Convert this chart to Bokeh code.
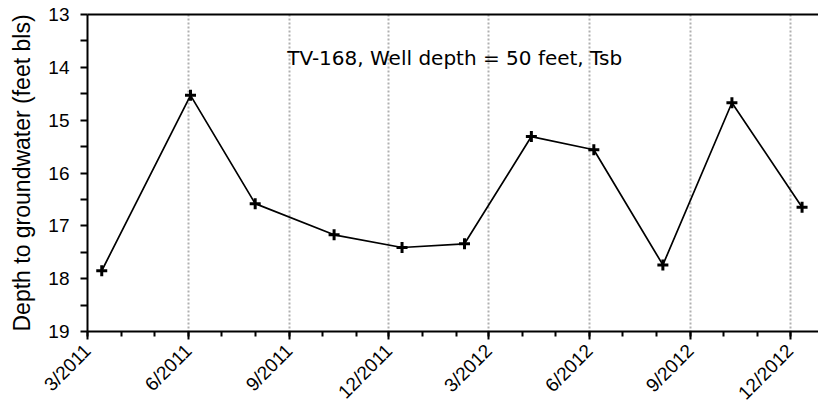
import pandas as pd
from bokeh.plotting import figure
from bokeh.models import (Range1d, FixedTicker, LinearAxis, Label, ColumnDataSource)
from bokeh.embed import file_html
from bokeh.resources import INLINE

# ---- data ----
sample_dates = ["2011-03-14", "2011-06-03", "2011-08-01", "2011-10-12", "2011-12-13",
                "2012-02-08", "2012-04-09", "2012-06-05", "2012-08-07", "2012-10-09",
                "2012-12-12"]
depth_ft = [17.85, 14.53, 16.58, 17.17, 17.41, 17.34, 15.31, 15.56, 17.74, 14.67, 16.65]

tick_dates = ["2011-03-01", "2011-06-01", "2011-09-01", "2011-12-01", "2012-03-01",
              "2012-06-01", "2012-09-01", "2012-12-01"]
tick_labels = ["3/2011", "6/2011", "9/2011", "12/2011", "3/2012", "6/2012", "9/2012", "12/2012"]
minor_dates = pd.date_range("2011-03-01", "2013-01-01", freq="MS")

y_ticks = [13, 14, 15, 16, 17, 18, 19]
y_minor = [13.5, 14.5, 15.5, 16.5, 17.5, 18.5]

title_text = "TV-168, Well depth = 50 feet, Tsb"
y_label = "Depth to groundwater (feet bls)"

# ---- helpers ----
def ms(d):
    return pd.Timestamp(d).value // 10**6

src = ColumnDataSource(dict(date=pd.to_datetime(sample_dates), depth=depth_ft))

p = figure(width=818, height=414, x_axis_type="datetime",
           x_range=Range1d(pd.Timestamp("2011-03-01"), pd.Timestamp("2012-12-27")),
           y_range=Range1d(19, 13),
           output_backend="svg", toolbar_location=None,
           min_border_left=87, min_border_right=0, min_border_top=14, min_border_bottom=83)
p.outline_line_color = None
p.background_fill_color = "white"
p.border_fill_color = "white"

# x axis
tmaj = [ms(d) for d in tick_dates]
xa = p.xaxis[0]
xa.ticker = FixedTicker(ticks=tmaj, minor_ticks=[ms(d) for d in minor_dates])
xa.major_label_overrides = {t: lab for t, lab in zip(tmaj, tick_labels)}
xa.major_label_orientation = 0.785398
xa.major_label_text_font = "Liberation Sans"
xa.major_label_text_font_size = "19px"
xa.major_label_text_color = "black"
xa.major_label_standoff = 8
xa.axis_line_width = 2
xa.axis_line_color = "black"
xa.major_tick_line_width = 2
xa.minor_tick_line_width = 2
xa.major_tick_out = 8
xa.major_tick_in = 0
xa.minor_tick_out = 5
xa.minor_tick_in = 0

# y axis
ya = p.yaxis[0]
ya.ticker = FixedTicker(ticks=y_ticks, minor_ticks=y_minor)
ya.axis_label = y_label
ya.axis_label_text_font = "Liberation Sans"
ya.axis_label_text_font_size = "23px"
ya.axis_label_text_font_style = "normal"
ya.axis_label_text_color = "black"
ya.axis_label_standoff = 10
ya.major_label_text_font = "Liberation Sans"
ya.major_label_text_font_size = "19px"
ya.major_label_text_color = "black"
ya.major_label_standoff = 11
ya.axis_line_width = 2
ya.axis_line_color = "black"
ya.major_tick_line_width = 2
ya.minor_tick_line_width = 2
ya.major_tick_out = 7
ya.major_tick_in = 0
ya.minor_tick_out = 7
ya.minor_tick_in = 0

# top border line as an empty axis
top = LinearAxis(ticker=FixedTicker(ticks=[]), major_tick_line_color=None,
                 minor_tick_line_color=None, major_label_text_font_size="0px",
                 axis_line_width=2, axis_line_color="black")
top.major_tick_out = 0
top.minor_tick_out = 0
top.major_label_standoff = 0
p.add_layout(top, "above")

# grid
p.ygrid.visible = False
p.xgrid.grid_line_color = "#b0b0b0"
p.xgrid.grid_line_width = 2
p.xgrid.grid_line_dash = "2 2"

# series
p.line("date", "depth", source=src, line_color="black", line_width=1.7)
p.scatter("date", "depth", source=src, marker="cross", size=11,
          line_color="black", line_width=3)

p.add_layout(Label(x=pd.Timestamp("2012-01-30"), y=13.83, text=title_text,
                   text_align="center", text_baseline="alphabetic",
                   text_font="DejaVu Sans", text_font_size="20px", text_color="black"))

open("out.html", "w").write(file_html(p, INLINE))
